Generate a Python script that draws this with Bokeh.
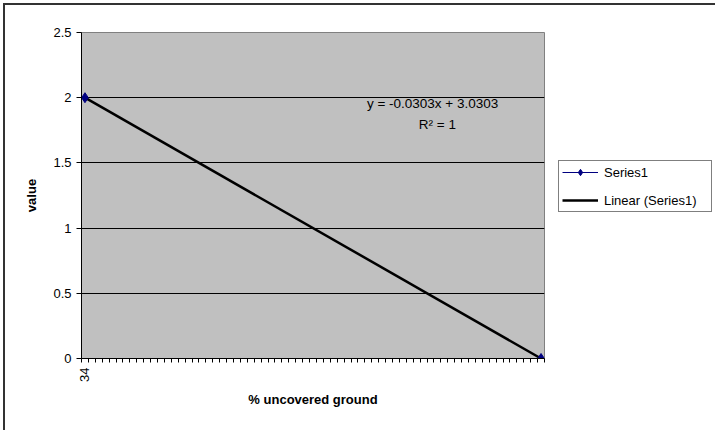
import numpy as np
from bokeh.plotting import figure
from bokeh.models import FixedTicker, Legend, LegendItem, Label, Range1d
from bokeh.embed import file_html
from bokeh.resources import INLINE

# Measured series
x_values = [34, 100]
y_values = [2, 0]

# Linear trendline coefficients (as reported on the chart)
slope = -0.0303
intercept = 3.0303
r_squared = 1

# Axis ticks
x_tick_values = [34]
x_tick_labels = ["34"]
y_ticks = [0, 0.5, 1, 1.5, 2, 2.5]
y_grid = [0.5, 1, 1.5, 2]

FONT = "Liberation Sans"

p = figure(frame_width=463, frame_height=326, output_backend="svg",
           toolbar_location=None,
           x_range=Range1d(33.5, 100.5), y_range=Range1d(0, 2.5),
           min_border_left=81, min_border_right=14,
           min_border_top=32, min_border_bottom=72)
p.background_fill_color = "#C0C0C0"
p.border_fill_color = "white"
p.outline_line_color = "#808080"
p.outline_line_width = 1

# X axis: one labelled category, minor ticks between every unit
xa = p.xaxis[0]
xa.ticker = FixedTicker(ticks=x_tick_values,
                        minor_ticks=list(np.arange(33.5, 101.0, 1.0)))
xa.major_label_overrides = {v: t for v, t in zip(x_tick_values, x_tick_labels)}
xa.major_label_orientation = np.pi / 2
xa.major_tick_out = 0
xa.major_tick_in = 0
xa.minor_tick_out = 4
xa.minor_tick_in = 0
xa.major_label_standoff = 5
xa.axis_label = "% uncovered ground"
xa.axis_label_standoff = 7
xa.axis_line_color = "black"
xa.minor_tick_line_color = "black"

ya = p.yaxis[0]
ya.ticker = FixedTicker(ticks=y_ticks, minor_ticks=[])
ya.major_label_overrides = {0: "0", 0.5: "0.5", 1: "1", 1.5: "1.5", 2: "2", 2.5: "2.5"}
ya.major_tick_out = 5
ya.major_tick_in = 0
ya.major_label_standoff = 5
ya.axis_label = "value"
ya.axis_label_standoff = 11
ya.axis_line_color = "black"

for ax in (xa, ya):
    ax.major_label_text_font = FONT
    ax.major_label_text_font_size = "13px"
    ax.major_label_text_color = "black"
    ax.axis_label_text_font = FONT
    ax.axis_label_text_font_size = "13px"
    ax.axis_label_text_font_style = "bold"
    ax.axis_label_text_color = "black"

p.xgrid.visible = False
p.ygrid.ticker = FixedTicker(ticks=y_grid)
p.ygrid.grid_line_color = "black"
p.ygrid.grid_line_width = 1

# Series and trendline
series_line = p.line(x_values, y_values, line_color="#000080", line_width=1)
trend_x = np.array([min(x_values), max(x_values)], dtype=float)
trend_y = slope * trend_x + intercept
trend = p.line(trend_x, trend_y, line_color="black", line_width=2.5)
series_pts = p.scatter(x_values, y_values, marker="diamond", size=10,
                       fill_color="#000080", line_color="#000080")

# Trendline equation
p.add_layout(Label(x=84.3, y=1.955, text=f"y = {slope}x + {intercept}",
                   text_align="center", text_baseline="middle",
                   text_font=FONT, text_font_size="13.5px", text_color="black"))
p.add_layout(Label(x=85.0, y=1.795, text=f"R\u00b2 = {r_squared}",
                   text_align="center", text_baseline="middle",
                   text_font=FONT, text_font_size="13.5px", text_color="black"))

legend = Legend(items=[
    LegendItem(label="Series1", renderers=[series_line, series_pts]),
    LegendItem(label="Linear (Series1)", renderers=[trend]),
], location=(14, 146))
legend.label_text_font = FONT
legend.label_text_font_size = "13px"
legend.label_text_color = "black"
legend.glyph_width = 36
legend.glyph_height = 16
legend.label_height = 16
legend.label_width = 104
legend.label_standoff = 6
legend.spacing = 12
legend.padding = 3
legend.margin = 0
legend.border_line_color = "black"
legend.border_line_width = 1
legend.background_fill_color = "white"
legend.background_fill_alpha = 1
p.add_layout(legend, "right")

html = file_html(p, INLINE)

# Chart area frame: dark rule along the top and left edges of the page
frame_css = """<style>
body::before {
  content: ""; position: fixed; left: 3px; top: 3px;
  width: 2000px; height: 2000px;
  border-top: 2px solid #333333; border-left: 2px solid #333333;
  pointer-events: none; z-index: 10;
}
</style>
</head>"""
html = html.replace("</head>", frame_css, 1)

open("out.html", "w").write(html)
